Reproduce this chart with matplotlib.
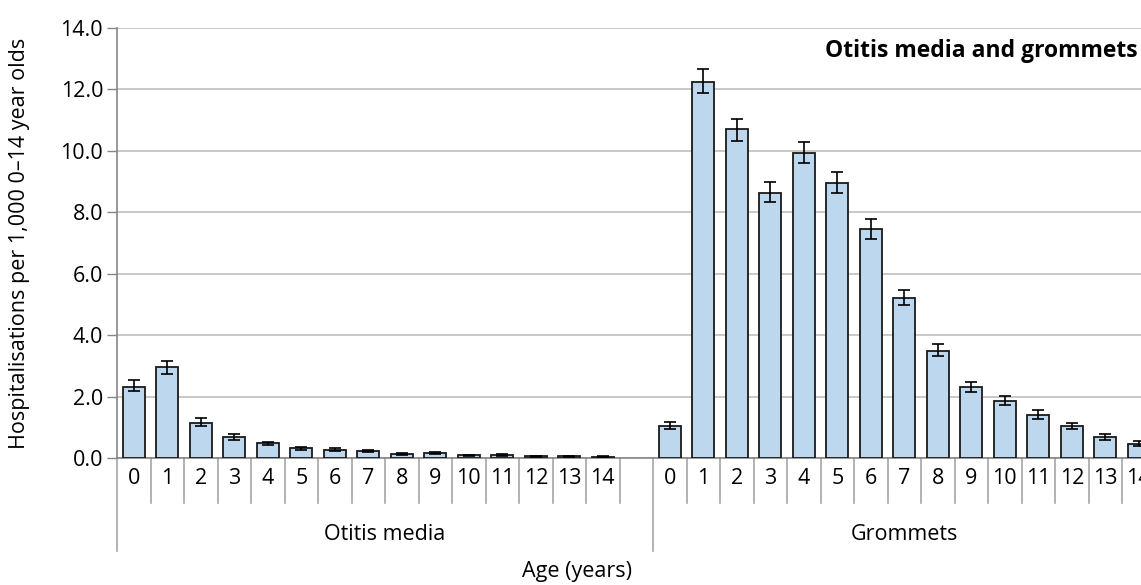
import matplotlib
matplotlib.use("Agg")
import matplotlib.pyplot as plt
from matplotlib.transforms import blended_transform_factory
import numpy as np

plt.rcParams['font.family'] = ['Open Sans', 'DejaVu Sans']

ages = [str(a) for a in range(15)]
groups = ["Otitis media", "Grommets"]

otitis = [2.32, 2.95, 1.15, 0.67, 0.48, 0.32, 0.27, 0.22, 0.12, 0.15, 0.09, 0.10, 0.06, 0.06, 0.04]
otitis_lo = [2.17, 2.74, 1.03, 0.57, 0.43, 0.27, 0.23, 0.18, 0.09, 0.12, 0.07, 0.07, 0.04, 0.04, 0.03]
otitis_hi = [2.53, 3.15, 1.29, 0.78, 0.53, 0.37, 0.31, 0.26, 0.15, 0.18, 0.11, 0.13, 0.08, 0.08, 0.05]

gromm = [1.04, 12.25, 10.70, 8.63, 9.93, 8.95, 7.45, 5.21, 3.50, 2.32, 1.87, 1.41, 1.04, 0.68, 0.47]
gromm_lo = [0.93, 11.88, 10.33, 8.33, 9.62, 8.63, 7.13, 4.98, 3.32, 2.14, 1.73, 1.28, 0.93, 0.58, 0.38]
gromm_hi = [1.18, 12.66, 11.05, 9.00, 10.28, 9.30, 7.78, 5.47, 3.70, 2.48, 2.02, 1.56, 1.15, 0.79, 0.56]

yticks = [0, 2, 4, 6, 8, 10, 12, 14]

W, H = 1141, 585
fig = plt.figure(figsize=(W / 100, H / 100), dpi=100)
slot_px = 33.5
nslots = 31
left_px, bottom_px, top_px = 117, 458, 28
ax = fig.add_axes([left_px / W, (H - bottom_px) / H,
                   nslots * slot_px / W, (bottom_px - top_px) / H])

FS = 15.5
bar_color = '#BDD7EE'
n = len(ages)
x_ot = np.arange(n) + 0.5
x_gr = np.arange(n) + 16.5

for xs, vals, lo, hi in [(x_ot, otitis, otitis_lo, otitis_hi),
                         (x_gr, gromm, gromm_lo, gromm_hi)]:
    vals = np.array(vals)
    yerr = np.vstack([vals - np.array(lo), np.array(hi) - vals])
    ax.bar(xs, vals, width=0.66, color=bar_color, edgecolor='#1a1a1a', linewidth=1.3, zorder=3)
    ax.errorbar(xs, vals, yerr=yerr, fmt='none', ecolor='black', elinewidth=1.2,
                capsize=4.5, capthick=1.2, zorder=4)

ax.set_xlim(0, nslots)
ax.set_ylim(0, 14)
ax.set_yticks(yticks)
ax.set_yticklabels([f"{v:.1f}" for v in yticks], fontsize=FS)
ax.tick_params(axis='y', length=7, color='#868686', width=1, pad=3)
ax.set_xticks([])
ax.grid(axis='y', color='#BFBFBF', linewidth=1.2, zorder=0)
ax.set_axisbelow(True)
for s in ['top', 'right']:
    ax.spines[s].set_visible(False)
ax.spines['left'].set_color('#868686')
ax.spines['bottom'].set_color('#868686')
ax.spines['left'].set_linewidth(1.2)
ax.spines['bottom'].set_linewidth(1.2)

# category axis
trans = blended_transform_factory(ax.transData, fig.transFigure)
def fy(px):
    return (H - px) / H

for i in range(1, nslots):
    if i == 16:
        continue
    ax.plot([i, i], [fy(458), fy(503)], transform=trans, color='#A6A6A6', lw=1.2, clip_on=False)
for i in [0, 16]:
    ax.plot([i, i], [fy(458), fy(551)], transform=trans, color='#A6A6A6', lw=1.2, clip_on=False)

for xs in (x_ot, x_gr):
    for x, lab in zip(xs, ages):
        ax.text(x, fy(479), lab, transform=trans, ha='center', va='center', fontsize=FS)

ax.text(8.0, fy(535), groups[0], transform=trans, ha='center', va='center', fontsize=FS)
ax.text(23.5, fy(535), groups[1], transform=trans, ha='center', va='center', fontsize=FS)

fig.text(577 / W, fy(572), "Age (years)", ha='center', va='center', fontsize=FS)
fig.text(20 / W, fy(243), "Hospitalisations per 1,000 0\u201314 year olds", rotation=90,
         ha='center', va='center', fontsize=FS)
fig.text(1138 / W, fy(51), "Otitis media and grommets", ha='right', va='center',
         fontsize=16.5, fontweight='bold')

fig.savefig("out.png", dpi=100)
